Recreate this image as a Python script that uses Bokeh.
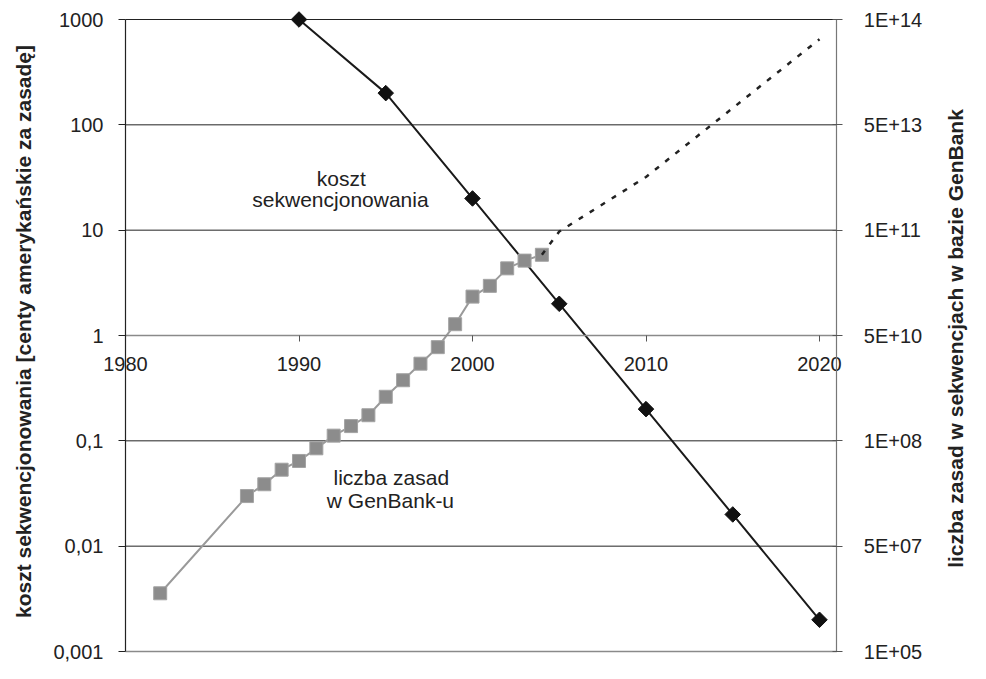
from math import pi
from bokeh.plotting import figure
from bokeh.models import LogAxis, FixedTicker, Label, Range1d
from bokeh.embed import file_html
from bokeh.resources import INLINE

# --- data -------------------------------------------------------------
cost_years = [1990, 1995, 2000, 2005, 2010, 2015, 2020]
cost_values = [1000, 200, 20, 2, 0.2, 0.02, 0.002]

genbank_years = [1982, 1987, 1988, 1989, 1990, 1991, 1992, 1993, 1994, 1995,
                 1996, 1997, 1998, 1999, 2000, 2001, 2002, 2003, 2004]
genbank_values = [0.00357, 0.0299, 0.0387, 0.0532, 0.0644, 0.0849, 0.112, 0.138,
                  0.175, 0.262, 0.376, 0.540, 0.775, 1.28, 2.34, 2.96, 4.34, 5.14, 5.84]

proj_years = [2004, 2005, 2010, 2020]
proj_values = [5.84, 9.7, 32, 650]

x_ticks = [1980, 1990, 2000, 2010, 2020]
y_ticks = [0.001, 0.01, 0.1, 1, 10, 100, 1000]
left_labels = ["0,001", "0,01", "0,1", "1", "10", "100", "1000"]
right_labels = ["1E+05", "5E+07", "1E+08", "5E+10", "1E+11", "5E+13", "1E+14"]
grid_black = [0.01, 0.1, 10, 100, 1000]
grid_grey = [0.001]
x_start, x_end = 1980, 2021
y_start, y_end = 0.001, 1000

# --- layout: the whole canvas is the plot frame ------------------------
W, H = 970, 663
SX = 17.35                      # pixels per year
X0 = x_start - 125 / SX         # data x at canvas left edge
X1 = X0 + W / SX
TOP_PX, BOT_PX = 19, 651        # pixel rows of 1000 and 0.001
D = (BOT_PX - TOP_PX) / 6.0     # pixels per decade
Y1 = 10 ** (3 + TOP_PX / D)
Y0 = 10 ** (-3 - (H - BOT_PX) / D)


def px_x(px):
    return X0 + px / SX


def px_y(py):
    return 10 ** (3 - (py - TOP_PX) / D)


FONT = "Liberation Sans"
TXT = "#222222"

p = figure(width=W, height=H, y_axis_type="log",
           x_range=Range1d(X0, X1), y_range=Range1d(Y0, Y1),
           output_backend="svg", toolbar_location=None)
p.min_border = 0
p.min_border_left = 0
p.min_border_right = 0
p.min_border_top = 0
p.min_border_bottom = 0
p.outline_line_color = None
p.background_fill_color = "white"
p.border_fill_color = "white"
p.xgrid.visible = False
p.ygrid.visible = False

# x axis crossing at y = 1
xa = p.xaxis[0]
xa.fixed_location = 1
xa.bounds = (x_start, x_end)
xa.ticker = FixedTicker(ticks=x_ticks)
xa.axis_line_color = "#8a8a8a"
xa.axis_line_width = 1.5
xa.major_tick_line_color = "#555555"
xa.major_tick_out = 6
xa.major_tick_in = 0
xa.minor_tick_line_color = None
xa.major_label_text_font = FONT
xa.major_label_text_font_size = "20px"
xa.major_label_text_color = TXT
xa.major_label_standoff = 15

# left axis at x = 1980
ya = p.yaxis[0]
ya.fixed_location = x_start
ya.bounds = (y_start, y_end)
ya.ticker = FixedTicker(ticks=y_ticks)
ya.major_label_overrides = {t: l for t, l in zip(y_ticks, left_labels)}
ya.axis_line_color = "#222222"
ya.axis_line_width = 1.2
ya.major_tick_line_color = "#222222"
ya.major_tick_out = 7
ya.major_tick_in = 0
ya.minor_tick_line_color = None
ya.major_label_text_font = FONT
ya.major_label_text_font_size = "20px"
ya.major_label_text_color = TXT
ya.major_label_standoff = 15

# right axis at x = 2021
ra = LogAxis(ticker=FixedTicker(ticks=y_ticks), fixed_location=x_end,
             bounds=(y_start, y_end),
             major_label_overrides={t: l for t, l in zip(y_ticks, right_labels)})
ra.axis_line_color = "#777777"
ra.axis_line_width = 1.2
ra.major_tick_line_color = "#555555"
ra.major_tick_out = 6
ra.major_tick_in = 4
ra.minor_tick_line_color = None
ra.major_label_text_font = FONT
ra.major_label_text_font_size = "20px"
ra.major_label_text_color = TXT
ra.major_label_standoff = 21
p.add_layout(ra, "right")

# horizontal grid lines between the two axes
nb = len(grid_black)
p.segment(x0=[x_start] * nb, x1=[x_end] * nb, y0=grid_black, y1=grid_black,
          line_color="#222222", line_width=1, level="underlay")
ng = len(grid_grey)
p.segment(x0=[x_start] * ng, x1=[x_end] * ng, y0=grid_grey, y1=grid_grey,
          line_color="#8a8a8a", line_width=1.5, level="underlay")

# series
p.line(cost_years, cost_values, line_color="#1a1a1a", line_width=2)
p.scatter(cost_years, cost_values, marker="square", angle=pi / 4, size=11,
          fill_color="#111111", line_color="#111111")

p.line(genbank_years, genbank_values, line_color="#9a9a9a", line_width=2)
p.scatter(genbank_years, genbank_values, marker="square", size=13,
          fill_color="#8c8c8c", line_color="#a3a3a3", line_width=1)

p.line(proj_years, proj_values, line_color="#222222", line_width=2.5, line_dash="5 8")


# annotations
def lab(x, y, t):
    p.add_layout(Label(x=x, y=y, text=t, text_font=FONT, text_font_size="21px",
                       text_color=TXT, text_align="center",
                       text_baseline="alphabetic"))


lab(1992.44, 31.1, "koszt")
lab(1992.39, 19.5, "sekwencjonowania")
lab(1995.32, 0.0452, "liczba zasad")
lab(1995.27, 0.0271, "w GenBank-u")


def title(px, py, t):
    p.add_layout(Label(x=px_x(px), y=px_y(py), text=t, text_font=FONT,
                       text_font_size="21px", text_font_style="bold",
                       text_color=TXT, text_align="center",
                       text_baseline="middle", angle=pi / 2))


title(23, 331, "koszt sekwencjonowania [centy amerykańskie za zasadę]")
title(955, 338, "liczba zasad w sekwencjach w bazie GenBank")

open("out.html", "w").write(file_html(p, INLINE))
